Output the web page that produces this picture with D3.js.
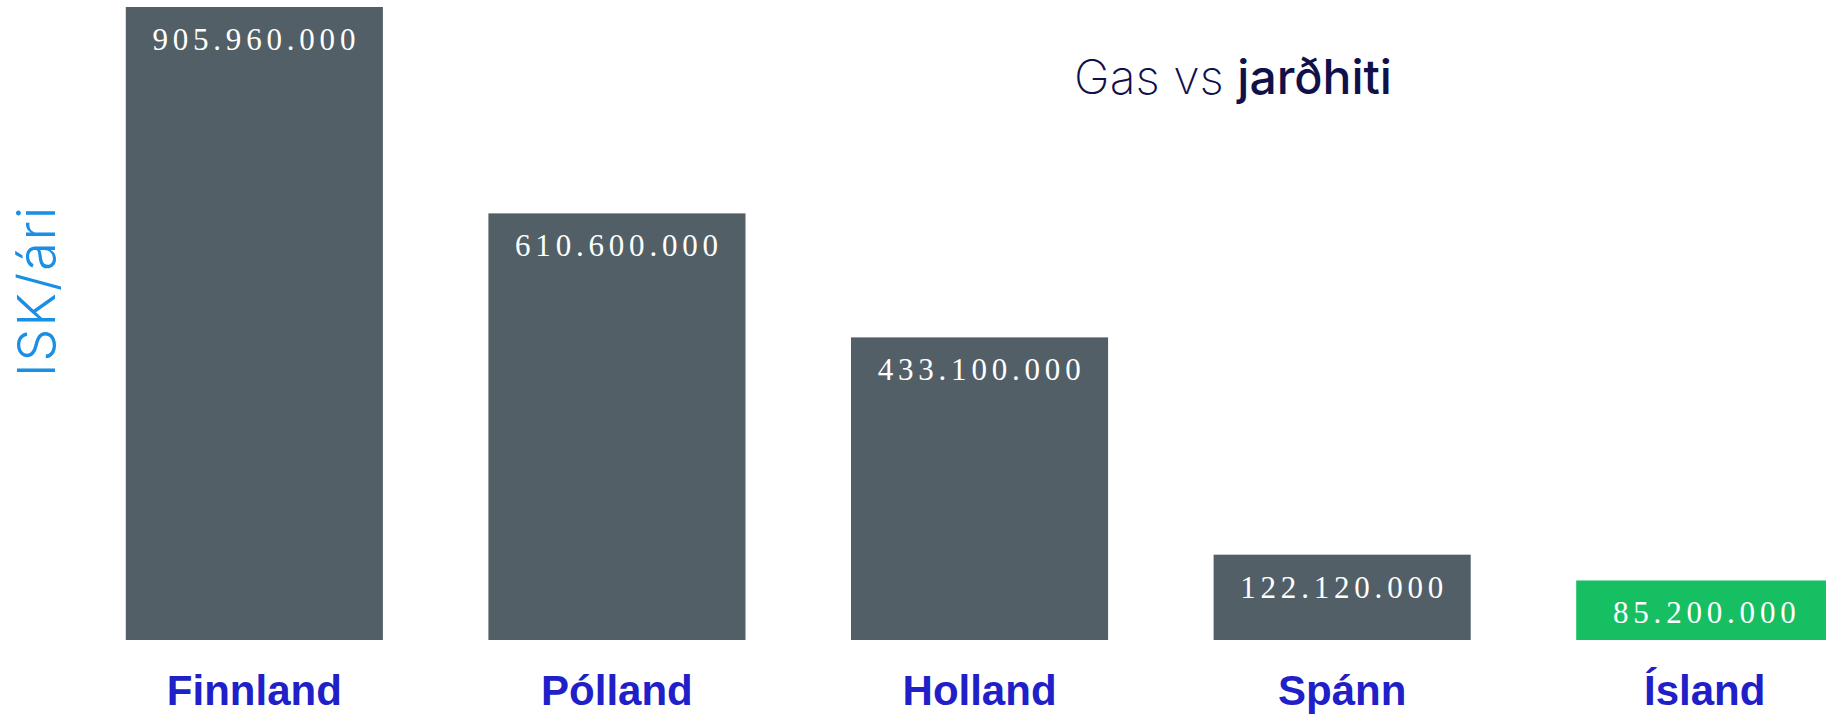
<!DOCTYPE html>
<html>
<head>
<meta charset="utf-8">
<script src="https://cdn.jsdelivr.net/npm/d3@7"></script>
<style>
  html, body { margin: 0; padding: 0; background: #fff; overflow: hidden; }
</style>
</head>
<body>
<div id="chart"></div>
<script>
// data
var countries = ["Finnland", "Pólland", "Holland", "Spánn", "Ísland"];
var costs = [905960000, 610600000, 433100000, 122120000, 85200000];
var highlight = ["Ísland"];

var width = 1826, height = 714;
var margin = { top: 7, bottom: 74, left: 125.8 };

var svg = d3.select("#chart")
  .append("svg")
  .attr("width", width)
  .attr("height", height);

var x = d3.scaleBand()
  .domain(countries)
  .range([margin.left, 1833.3])
  .paddingInner(0.291)
  .paddingOuter(0);

var y = d3.scaleLinear()
  .domain([0, d3.max(costs)])
  .range([height - margin.bottom, margin.top]);

var fmt = d3.formatLocale({ decimal: ",", thousands: ".", grouping: [3], currency: ["", ""] }).format(",d");

var data = countries.map(function (c, i) { return { country: c, value: costs[i] }; });

// bars
svg.selectAll(".bar")
  .data(data)
  .enter()
  .append("rect")
  .attr("class", "bar")
  .attr("x", function (d) { return x(d.country); })
  .attr("y", function (d) { return y(d.value); })
  .attr("width", x.bandwidth())
  .attr("height", function (d) { return y(0) - y(d.value); })
  .attr("fill", function (d) { return highlight.indexOf(d.country) >= 0 ? "#17bf63" : "#535f66"; });

// value labels inside bars
svg.selectAll(".val")
  .data(data)
  .enter()
  .append("text")
  .attr("class", "val")
  .attr("x", function (d) { return x(d.country) + x.bandwidth() / 2 + 2; })
  .attr("y", function (d) { return y(d.value) + 43; })
  .attr("text-anchor", "middle")
  .attr("fill", "#ffffff")
  .style("font-family", "'Liberation Serif', 'DejaVu Serif', serif")
  .style("font-size", "31px")
  .style("letter-spacing", "4.8px")
  .text(function (d) { return fmt(d.value); });

// x axis labels
var xAxis = d3.axisBottom(x).tickSize(0).tickPadding(0);
var gx = svg.append("g")
  .attr("class", "x-axis")
  .attr("transform", "translate(0," + y(0) + ")")
  .call(xAxis);
gx.select(".domain").remove();
gx.selectAll("text")
  .attr("dy", null)
  .attr("y", 65)
  .attr("fill", "#2020c8")
  .style("font-family", "'Liberation Sans', Arial, sans-serif")
  .style("font-weight", "bold")
  .style("font-size", "42px");

// y label
svg.append("text")
  .attr("transform", "translate(55,291) rotate(-90)")
  .attr("text-anchor", "middle")
  .attr("fill", "#1a8fe3")
  .style("font-family", "Inter, 'Open Sans', sans-serif")
  .style("font-weight", "300")
  .style("font-size", "52px")
  .style("letter-spacing", "2px")
  .text("ISK/ári");

// title
var title = svg.append("text")
  .attr("x", 1233)
  .attr("y", 94)
  .attr("text-anchor", "middle")
  .attr("fill", "#10104a")
  .style("font-family", "Inter, 'Open Sans', sans-serif")
  .style("font-size", "48px");
title.append("tspan").style("font-weight", "200").text("Gas vs ");
title.append("tspan").style("font-weight", "500").text("jarðhiti");
</script>
</body>
</html>
